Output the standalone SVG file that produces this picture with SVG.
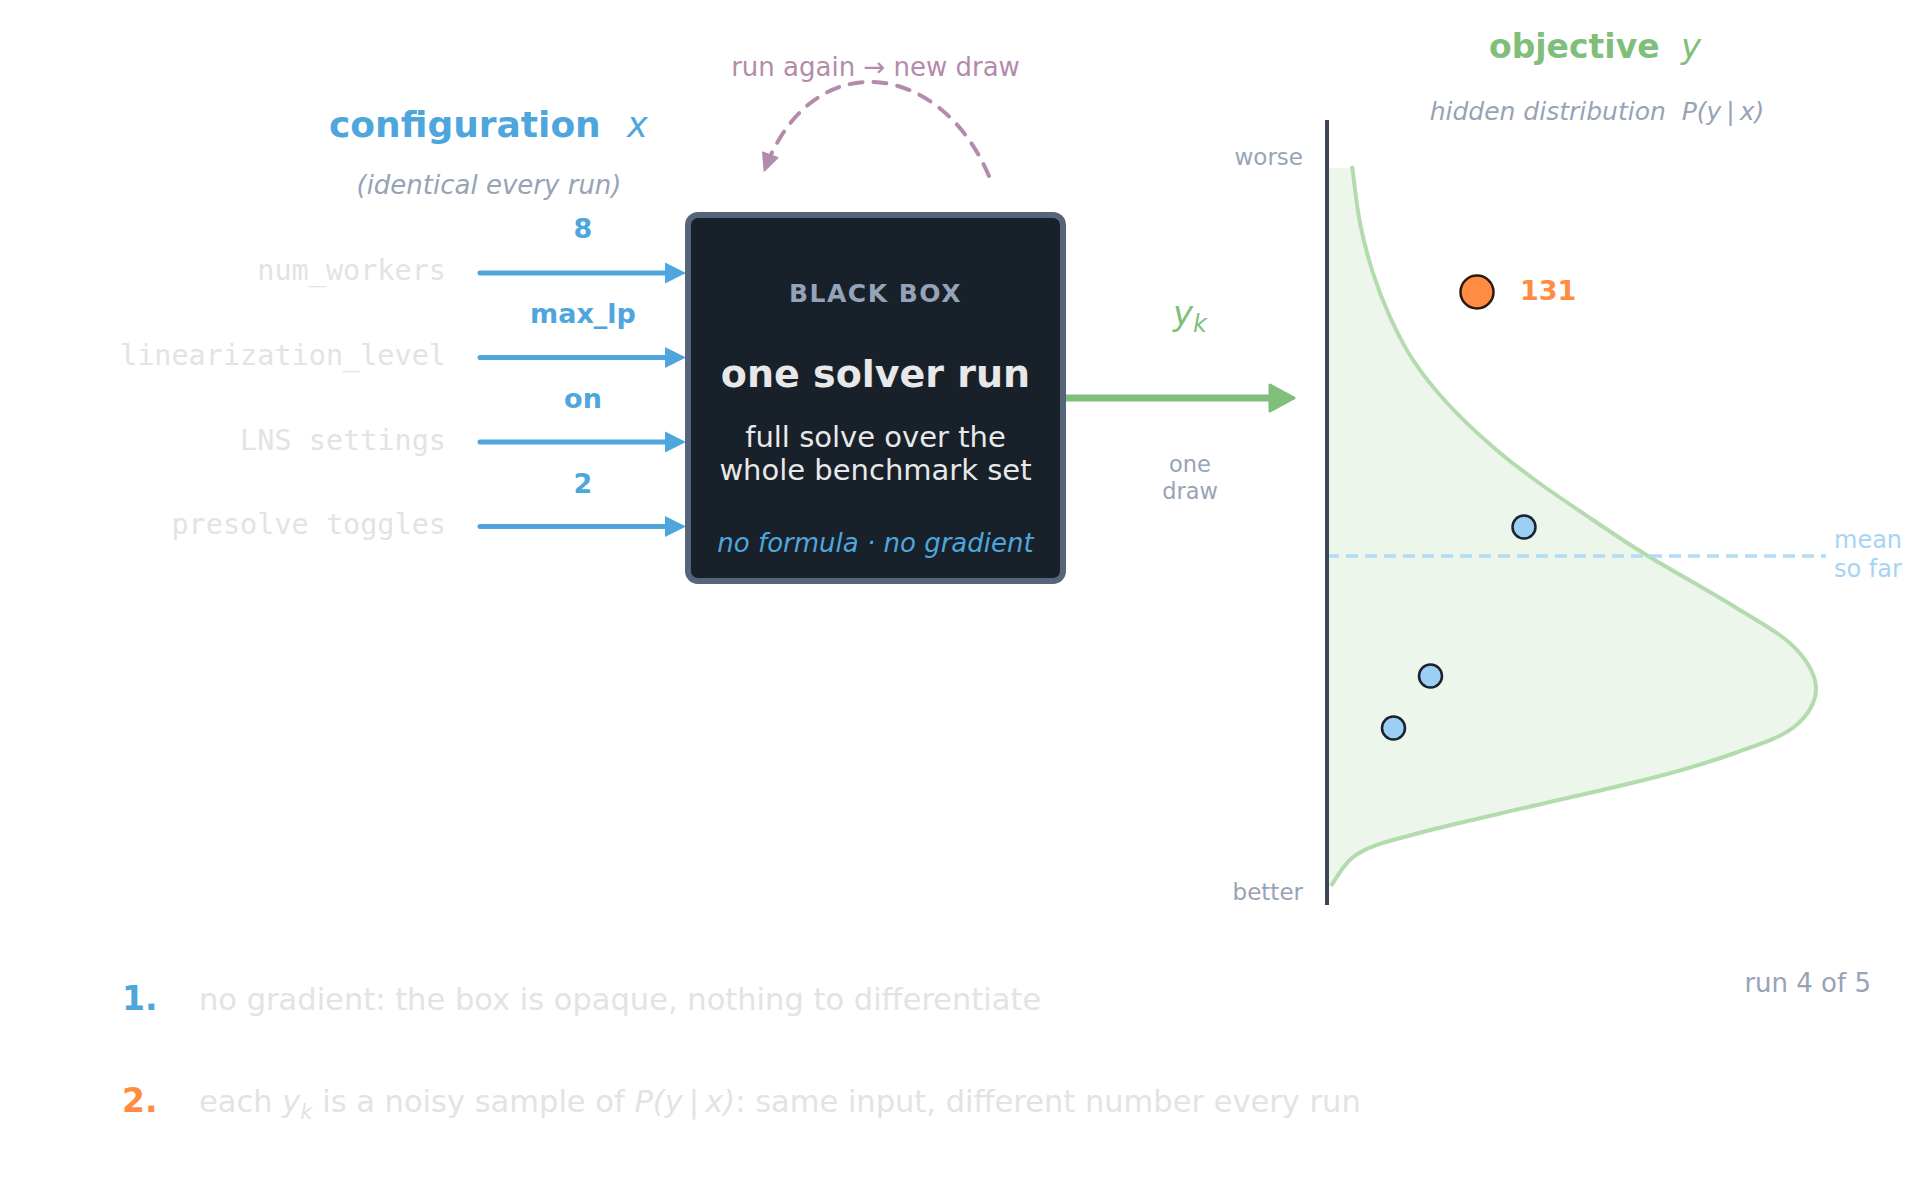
<svg xmlns="http://www.w3.org/2000/svg" width="1920" height="1200" viewBox="0 0 1920 1200">
<style>
text{font-family:"DejaVu Sans","Liberation Sans",sans-serif}
.mono{font-family:"DejaVu Sans Mono","Liberation Mono",monospace;font-size:28.5px;fill:#e3e3e3;text-anchor:end}
.val{font-weight:bold;font-size:27px;fill:#4ea6dc;text-anchor:middle}
.inarrow{stroke:#4ea6dc;stroke-width:5;stroke-linecap:round;fill:none}
.gray{fill:#97a3b6}
.dot{fill:#9dcff5;stroke:#1a2230;stroke-width:2.5}
.note{font-size:30.5px;fill:#e3e3e3}
.it{font-style:italic}
</style>
<defs>
<marker id="hBlue" markerUnits="userSpaceOnUse" markerWidth="22" markerHeight="22" refX="11" refY="10.5" orient="auto" overflow="visible">
<path d="M0,0 L21,10.5 L0,21 z" fill="#4ea6dc"/>
</marker>
<marker id="hGreen" markerUnits="userSpaceOnUse" markerWidth="28" markerHeight="28" refX="10" refY="13" orient="auto" overflow="visible">
<path d="M0,0 L24,13 L0,26 z" fill="#7fbf7b" stroke="#7fbf7b" stroke-width="3" stroke-linejoin="round"/>
</marker>
<marker id="hMauve" markerUnits="userSpaceOnUse" markerWidth="20" markerHeight="18" refX="15" refY="8" orient="auto" overflow="visible">
<path d="M0,0 L17,8 L0,16 z" fill="#b48bab" stroke="#b48bab" stroke-width="1.5" stroke-linejoin="round"/>
</marker>
</defs>
<rect width="1920" height="1200" fill="#ffffff"/>

<g id="config-title">
<text x="329" y="137" font-size="36" font-weight="bold" fill="#4ea6dc">configuration</text>
<text x="627" y="137" font-size="35" font-style="italic" fill="#4ea6dc">x</text>
<text x="489" y="194" font-size="26" font-style="italic" class="gray" text-anchor="middle">(identical every run)</text>
</g>

<g id="params">
<text class="mono" x="446" y="280">num_workers</text>
<text class="mono" x="446" y="365">linearization_level</text>
<text class="mono" x="446" y="450">LNS settings</text>
<text class="mono" x="446" y="534">presolve toggles</text>
</g>

<g id="connectors">
<line class="inarrow" x1="480" y1="273" x2="676" y2="273" marker-end="url(#hBlue)"/>
<line class="inarrow" x1="480" y1="357.5" x2="676" y2="357.5" marker-end="url(#hBlue)"/>
<line class="inarrow" x1="480" y1="442" x2="676" y2="442" marker-end="url(#hBlue)"/>
<line class="inarrow" x1="480" y1="526.5" x2="676" y2="526.5" marker-end="url(#hBlue)"/>
<text class="val" x="583" y="238">8</text>
<text class="val" x="583" y="323">max_lp</text>
<text class="val" x="583" y="408">on</text>
<text class="val" x="583" y="493">2</text>
<path d="M989,176 C940,60 812,44 765,169" fill="none" stroke="#b48bab" stroke-width="4" stroke-linecap="round" stroke-dasharray="13 11" marker-end="url(#hMauve)"/>
<text x="875.5" y="76" font-size="26" fill="#b48bab" text-anchor="middle">run again → new draw</text>
<line x1="1063" y1="398" x2="1280" y2="398" stroke="#7fbf7b" stroke-width="7" stroke-linecap="round" marker-end="url(#hGreen)"/>
<text x="1190" y="325" text-anchor="middle" fill="#7fbf7b" font-style="italic"><tspan font-size="34">y</tspan><tspan font-size="24" dy="7">k</tspan></text>
<text x="1190" y="472" font-size="22.5" class="gray" text-anchor="middle">one</text>
<text x="1190" y="499" font-size="22.5" class="gray" text-anchor="middle">draw</text>
</g>

<g id="black-box">
<rect x="688" y="215" width="375" height="366" rx="10" ry="10" fill="#18202a" stroke="#566579" stroke-width="6"/>
<text x="875.5" y="302" font-size="25" font-weight="bold" fill="#94a3b8" text-anchor="middle" letter-spacing="1.5">BLACK BOX</text>
<text x="875.5" y="387" font-size="38" font-weight="bold" fill="#e8e8e8" text-anchor="middle">one solver run</text>
<text x="875.5" y="447" font-size="29" fill="#e8e8e8" text-anchor="middle">full solve over the</text>
<text x="875.5" y="480" font-size="29" fill="#e8e8e8" text-anchor="middle">whole benchmark set</text>
<text x="875.5" y="552" font-size="26" font-style="italic" fill="#4ea6dc" text-anchor="middle">no formula · no gradient</text>
</g>

<g id="objective">
<text x="1489" y="58" font-size="33" font-weight="bold" fill="#7fbf7b">objective</text>
<text x="1681" y="58" font-size="34" font-style="italic" fill="#7fbf7b">y</text>
<text x="1597" y="119.5" font-size="25" font-style="italic" class="gray" text-anchor="middle">hidden distribution&#160; P(y&#8201;|&#8201;x)</text>
</g>

<g id="distribution">
<path d="M1327,168 L1352,168 C1354.7,185 1356.5,205.2 1360,223 C1363.5,240.8 1368,257.3 1373,273 C1378,288.7 1383.3,302.5 1390,317 C1396.7,331.5 1403.5,345.7 1413,360 C1422.5,374.3 1433.7,388.5 1447,403 C1460.3,417.5 1478.3,434.2 1493,447 C1507.7,459.8 1518.3,467.8 1535,480 C1551.7,492.2 1574.2,507.3 1593,520 C1611.8,532.7 1624.3,541.5 1648,556 C1671.7,570.5 1710.7,591.8 1735,607 C1759.3,622.2 1782,634 1796,649 C1810,664 1816,677 1816,689 C1816,702 1808,716 1794,727 C1780.5,737.8 1758,744.7 1735,753 C1712,761.3 1689,768.3 1656,777 C1623,785.7 1576.5,795.7 1537,805 C1497.5,814.3 1448.7,825 1419,833 C1389.3,841 1373.7,844.2 1359,853 C1344.3,861.8 1337.5,876.5 1331,886 L1327,886 Z" fill="#ecf6ea"/>
<path d="M1352,166 C1354.7,185 1356.5,205.2 1360,223 C1363.5,240.8 1368,257.3 1373,273 C1378,288.7 1383.3,302.5 1390,317 C1396.7,331.5 1403.5,345.7 1413,360 C1422.5,374.3 1433.7,388.5 1447,403 C1460.3,417.5 1478.3,434.2 1493,447 C1507.7,459.8 1518.3,467.8 1535,480 C1551.7,492.2 1574.2,507.3 1593,520 C1611.8,532.7 1624.3,541.5 1648,556 C1671.7,570.5 1710.7,591.8 1735,607 C1759.3,622.2 1782,634 1796,649 C1810,664 1816,677 1816,689 C1816,702 1808,716 1794,727 C1780.5,737.8 1758,744.7 1735,753 C1712,761.3 1689,768.3 1656,777 C1623,785.7 1576.5,795.7 1537,805 C1497.5,814.3 1448.7,825 1419,833 C1389.3,841 1373.7,844.2 1359,853 C1344.3,861.8 1337.5,876.5 1331,886" fill="none" stroke="#b3dbae" stroke-width="4"/>
<line x1="1327" y1="556" x2="1826" y2="556" stroke="#b3dcf6" stroke-width="3.5" stroke-dasharray="12 7"/>
<text x="1834" y="548" font-size="24" fill="#a6d4f5">mean</text>
<text x="1834" y="577" font-size="24" fill="#a6d4f5">so far</text>
<line x1="1327" y1="120" x2="1327" y2="905" stroke="#3d4758" stroke-width="4"/>
<text x="1303" y="165" font-size="23" class="gray" text-anchor="end">worse</text>
<text x="1303" y="900" font-size="23" class="gray" text-anchor="end">better</text>
</g>

<g id="samples">
<circle class="dot" cx="1524" cy="527" r="11.5"/>
<circle class="dot" cx="1430.5" cy="676" r="11.5"/>
<circle class="dot" cx="1393.5" cy="728" r="11.5"/>
<circle cx="1477" cy="292" r="16.5" fill="#ff8c42" stroke="#2a1a10" stroke-width="2.5"/>
<text x="1520" y="300" font-size="27" font-weight="bold" fill="#ff8c42">131</text>
</g>

<g id="notes">
<text x="122" y="1010" font-size="33" font-weight="bold" fill="#4ea6dc">1.</text>
<text class="note" x="199" y="1010">no gradient: the box is opaque, nothing to differentiate</text>
<text x="122" y="1112" font-size="33" font-weight="bold" fill="#ff8c42">2.</text>
<text class="note" x="199" y="1112">each <tspan class="it">y</tspan><tspan class="it" font-size="21" dy="7">k</tspan><tspan dy="-7"> is a noisy sample of </tspan><tspan class="it">P(y&#8201;|&#8201;x)</tspan>: same input, different number every run</text>
<text x="1871" y="992" font-size="26" class="gray" text-anchor="end">run 4 of 5</text>
</g>
</svg>
